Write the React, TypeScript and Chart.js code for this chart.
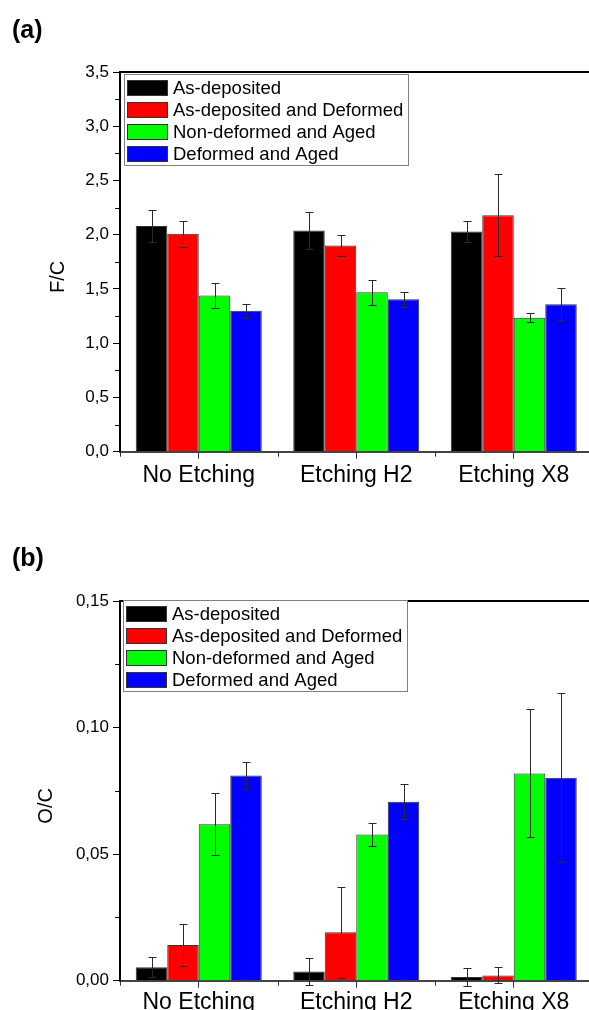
import React, { useEffect, useRef } from 'react';
import { Chart, registerables } from 'chart.js';

Chart.register(...registerables);

const FONT = '"Liberation Sans", Arial, Helvetica, sans-serif';

// ---- data ----
const categories = ['No Etching', 'Etching H2', 'Etching X8'];
const seriesNames = ['As-deposited', 'As-deposited and Deformed', 'Non-deformed and Aged', 'Deformed and Aged'];
const seriesColors = ['#000000', '#ff0000', '#00ff00', '#0000ff'];

// F/C (panel a)
const fcAsDeposited = [2.08, 2.04, 2.03];
const fcAsDepDeformed = [2.01, 1.9, 2.18];
const fcNonDefAged = [1.44, 1.47, 1.235];
const fcDefAged = [1.3, 1.405, 1.36];
const fcErrAsDeposited = [0.15, 0.17, 0.095];
const fcErrAsDepDeformed = [0.12, 0.093, 0.38];
const fcErrNonDefAged = [0.115, 0.115, 0.04];
const fcErrDefAged = [0.063, 0.07, 0.146];
const fcTicks = { max: 3.5, step: 0.5, minor: 0.25, decimals: 1 };

// O/C (panel b)
const ocAsDeposited = [0.0053, 0.0036, 0.0015];
const ocAsDepDeformed = [0.0141, 0.0191, 0.0021];
const ocNonDefAged = [0.0618, 0.0578, 0.0819];
const ocDefAged = [0.0811, 0.0707, 0.0802];
const ocErrAsDeposited = [0.004, 0.0053, 0.0037];
const ocErrAsDepDeformed = [0.0083, 0.018, 0.0032];
const ocErrNonDefAged = [0.0123, 0.0046, 0.0253];
const ocErrDefAged = [0.0052, 0.0069, 0.0333];
const ocTicks = { max: 0.15, step: 0.05, minor: 0.025, decimals: 2 };

const CW = 600;
const CH = 500;

const decorPlugin = {
  id: 'decor',
  afterDatasetsDraw(chart: any, _args: any, opts: any) {
    const ctx = chart.ctx;
    const y = chart.scales.y;
    ctx.save();
    ctx.strokeStyle = '#2a2a2a';
    ctx.lineWidth = 1;
    chart.data.datasets.forEach((ds: any, di: number) => {
      const meta = chart.getDatasetMeta(di);
      meta.data.forEach((el: any, i: number) => {
        const v = ds.data[i];
        const e = opts.errors[di][i];
        const x = Math.round(el.x) + 0.5;
        const yt = Math.round(y.getPixelForValue(v + e)) + 0.5;
        const yb = Math.round(y.getPixelForValue(v - e)) + 0.5;
        ctx.beginPath();
        ctx.moveTo(x, yt);
        ctx.lineTo(x, yb);
        ctx.moveTo(x - 4, yt);
        ctx.lineTo(x + 4, yt);
        ctx.moveTo(x - 4, yb);
        ctx.lineTo(x + 4, yb);
        ctx.stroke();
      });
    });
    ctx.restore();
  },
  afterDraw(chart: any, _args: any, opts: any) {
    const ctx = chart.ctx;
    const { left, right, top, bottom } = chart.chartArea;
    const y = chart.scales.y;
    ctx.save();
    // top and right frame lines
    ctx.strokeStyle = '#000';
    ctx.lineWidth = 2;
    ctx.beginPath();
    ctx.moveTo(left - 1, top);
    ctx.lineTo(right, top);
    ctx.lineTo(right, bottom);
    ctx.stroke();
    // minor y ticks
    ctx.lineWidth = 1;
    ctx.strokeStyle = '#000';
    const n = Math.round(opts.max / opts.minor);
    for (let k = 0; k <= n; k++) {
      if (k % Math.round(opts.step / opts.minor) === 0) continue;
      const py = Math.round(y.getPixelForValue(k * opts.minor)) + 0.5;
      ctx.beginPath();
      ctx.moveTo(left - 5, py);
      ctx.lineTo(left, py);
      ctx.stroke();
    }
    // minor x ticks at category boundaries
    ctx.strokeStyle = '#333';
    const cw = (right - left) / categories.length;
    for (let k = 0; k <= categories.length; k++) {
      const px = Math.round(left + k * cw) + 0.5;
      ctx.beginPath();
      ctx.moveTo(px, bottom);
      ctx.lineTo(px, bottom + 5);
      ctx.stroke();
    }
    // legend
    const bx = left + opts.legendDx;
    const by = top + opts.legendDy;
    ctx.fillStyle = '#fff';
    ctx.fillRect(bx, by, 284, 91);
    ctx.strokeStyle = '#808080';
    ctx.lineWidth = 1;
    ctx.strokeRect(bx + 0.5, by + 0.5, 284, 91);
    ctx.font = `18.5px ${FONT}`;
    ctx.textBaseline = 'middle';
    ctx.textAlign = 'left';
    seriesNames.forEach((name, i) => {
      const cy = by + 13.5 + 22.2 * i;
      ctx.fillStyle = seriesColors[i];
      ctx.fillRect(bx + 3, Math.round(cy - 8), 41, 16);
      ctx.strokeStyle = '#333';
      ctx.strokeRect(bx + 3.5, Math.round(cy - 8) + 0.5, 40, 15);
      ctx.fillStyle = '#000';
      ctx.fillText(name, bx + 49, cy + 1);
    });
    // y title
    ctx.save();
    ctx.translate(opts.titleX, (top + bottom) / 2 + 15);
    ctx.rotate(-Math.PI / 2);
    ctx.font = `20px ${FONT}`;
    ctx.textAlign = 'center';
    ctx.textBaseline = 'middle';
    ctx.fillStyle = '#000';
    ctx.fillText(opts.title, 0, 0);
    ctx.restore();
    ctx.restore();
  },
};

type Panel = {
  values: number[][];
  errors: number[][];
  ticks: { max: number; step: number; minor: number; decimals: number };
  title: string;
  titleX: number;
  legendDx: number;
  legendDy: number;
  labelPad: number;
};

function makeChart(canvas: HTMLCanvasElement, p: Panel) {
  return new Chart(canvas, {
    type: 'bar',
    data: {
      labels: categories,
      datasets: seriesNames.map((name, i) => ({
        label: name,
        data: p.values[i],
        backgroundColor: seriesColors[i],
        borderColor: '#333',
        borderWidth: 1,
        categoryPercentage: 0.8,
        barPercentage: 1.0,
      })),
    },
    options: {
      responsive: false,
      animation: false,
      layout: { padding: { top: 72, left: 0, right: 7.5, bottom: 0 } },
      plugins: {
        legend: { display: false },
        tooltip: { enabled: false },
        decor: {
          errors: p.errors,
          max: p.ticks.max,
          step: p.ticks.step,
          minor: p.ticks.minor,
          title: p.title,
          titleX: p.titleX,
          legendDx: p.legendDx,
          legendDy: p.legendDy,
        },
      } as any,
      scales: {
        x: {
          type: 'category',
          offset: true,
          grid: {
            display: true,
            offset: false,
            drawOnChartArea: false,
            drawTicks: true,
            tickLength: 7,
            color: '#333',
            lineWidth: 1,
          },
          border: { display: true, color: '#444', width: 2 },
          ticks: {
            color: '#000',
            font: { family: FONT, size: 23 },
            padding: p.labelPad,
            maxRotation: 0,
            autoSkip: false,
          },
          afterFit: (s: any) => {
            s.height = 48.3;
          },
        },
        y: {
          min: 0,
          max: p.ticks.max,
          grid: {
            drawOnChartArea: false,
            drawTicks: true,
            tickLength: 7,
            color: '#000',
            lineWidth: 1,
          },
          border: { display: true, color: '#000', width: 2 },
          ticks: {
            stepSize: p.ticks.step,
            color: '#000',
            font: { family: FONT, size: 17 },
            padding: 4,
            callback: (v: any) => Number(v).toFixed(p.ticks.decimals).replace('.', ','),
          },
          afterFit: (s: any) => {
            s.width = 120;
          },
        },
      } as any,
    },
    plugins: [decorPlugin as any],
  });
}

const panelA: Panel = {
  values: [fcAsDeposited, fcAsDepDeformed, fcNonDefAged, fcDefAged],
  errors: [fcErrAsDeposited, fcErrAsDepDeformed, fcErrNonDefAged, fcErrDefAged],
  ticks: fcTicks,
  title: 'F/C',
  titleX: 58,
  legendDx: 4,
  legendDy: 2,
  labelPad: 3,
};

const panelB: Panel = {
  values: [ocAsDeposited, ocAsDepDeformed, ocNonDefAged, ocDefAged],
  errors: [ocErrAsDeposited, ocErrAsDepDeformed, ocErrNonDefAged, ocErrDefAged],
  ticks: ocTicks,
  title: 'O/C',
  titleX: 46,
  legendDx: 3,
  legendDy: -1,
  labelPad: 1,
};

function ChartCanvas({ panel, top }: { panel: Panel; top: number }) {
  const ref = useRef<HTMLCanvasElement | null>(null);
  useEffect(() => {
    if (!ref.current) return;
    const c = makeChart(ref.current, panel);
    return () => c.destroy();
  }, [panel]);
  return (
    <canvas
      ref={ref}
      width={CW}
      height={CH}
      style={{ position: 'absolute', left: 0, top, width: CW, height: CH, display: 'block' }}
    />
  );
}

const panelLabel: React.CSSProperties = {
  position: 'absolute',
  left: 12,
  fontFamily: FONT,
  fontWeight: 'bold',
  fontSize: 25,
  lineHeight: '25px',
  color: '#000',
};

export default function App() {
  return (
    <div
      style={{
        position: 'absolute',
        left: 0,
        top: 0,
        width: 589,
        height: 1010,
        overflow: 'hidden',
        background: '#fff',
      }}
    >
      <ChartCanvas panel={panelA} top={0} />
      <ChartCanvas panel={panelB} top={529} />
      <div style={{ ...panelLabel, top: 17 }}>(a)</div>
      <div style={{ ...panelLabel, top: 545 }}>(b)</div>
    </div>
  );
}
